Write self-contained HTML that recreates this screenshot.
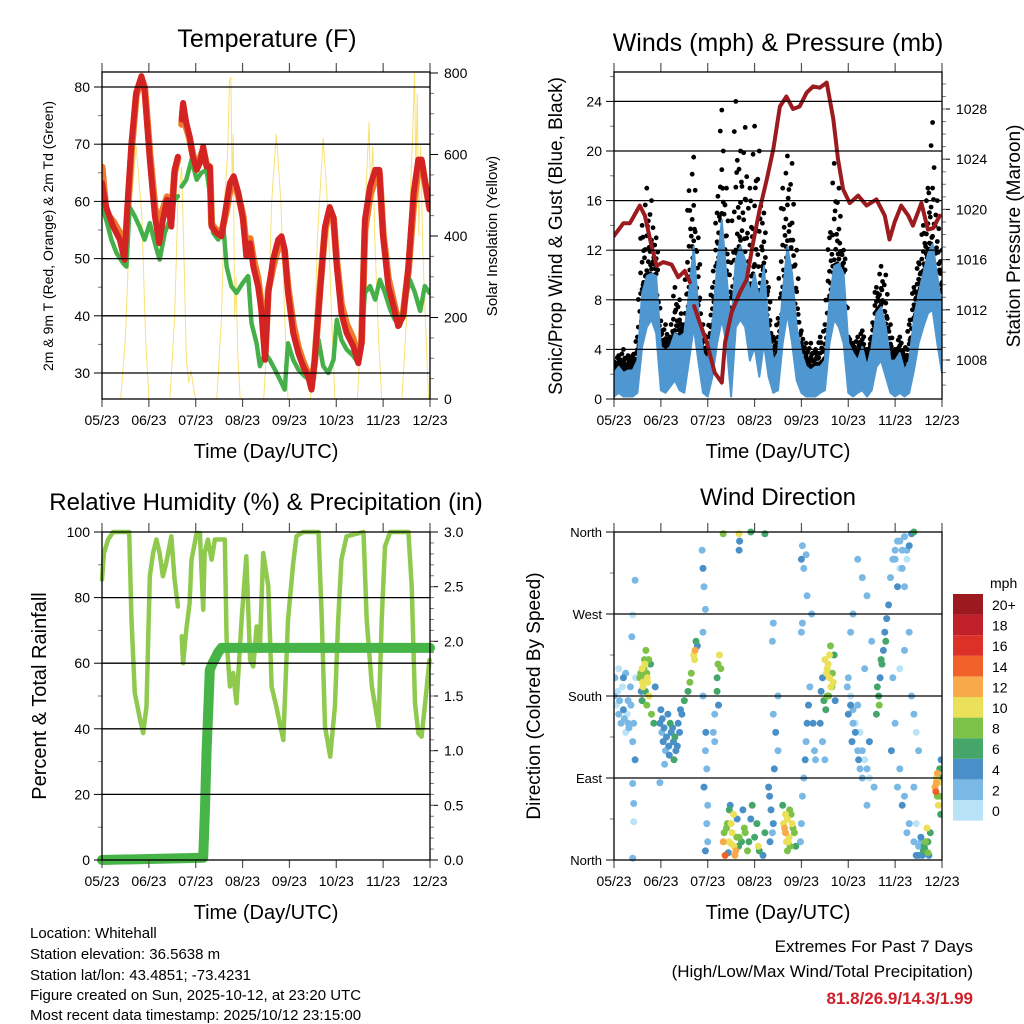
<!DOCTYPE html>
<html><head><meta charset="utf-8"><title>Weather station charts</title>
<style>
html,body{margin:0;padding:0;background:#fff;}
svg{display:block;font-family:"Liberation Sans",Arial,sans-serif;}
</style></head>
<body>
<svg id="fig" width="1024" height="1024" viewBox="0 0 1024 1024" xmlns="http://www.w3.org/2000/svg">
<rect x="0" y="0" width="1024" height="1024" fill="#fff"/>
<g id="layer"></g>
<text x="267" y="47" font-size="25" text-anchor="middle">Temperature (F)</text>
<text x="778" y="51" font-size="25" text-anchor="middle">Winds (mph) &amp; Pressure (mb)</text>
<text x="266" y="510" font-size="24" text-anchor="middle">Relative Humidity (%) &amp; Precipitation (in)</text>
<text x="778" y="505" font-size="24" text-anchor="middle">Wind Direction</text>
<text x="266" y="458" font-size="20" text-anchor="middle">Time (Day/UTC)</text>
<text x="778" y="458" font-size="20" text-anchor="middle">Time (Day/UTC)</text>
<text x="266" y="919" font-size="20" text-anchor="middle">Time (Day/UTC)</text>
<text x="778" y="919" font-size="20" text-anchor="middle">Time (Day/UTC)</text>
<text transform="translate(53,236) rotate(-90)" font-size="14" text-anchor="middle">2m &amp; 9m T (Red, Orange) &amp; 2m Td (Green)</text>
<text transform="translate(497,236) rotate(-90)" font-size="15" text-anchor="middle">Solar Insolation (Yellow)</text>
<text transform="translate(562,236) rotate(-90)" font-size="19" text-anchor="middle">Sonic/Prop Wind &amp; Gust (Blue, Black)</text>
<text transform="translate(1020,236) rotate(-90)" font-size="19" text-anchor="middle">Station Pressure (Maroon)</text>
<text transform="translate(46,696) rotate(-90)" font-size="20" text-anchor="middle">Percent &amp; Total Rainfall</text>
<text transform="translate(540,696) rotate(-90)" font-size="19" text-anchor="middle">Direction (Colored By Speed)</text>
<g font-size="15">
<text x="30" y="938">Location: Whitehall</text>
<text x="30" y="959">Station elevation: 36.5638 m</text>
<text x="30" y="980">Station lat/lon: 43.4851; -73.4231</text>
<text x="30" y="1000">Figure created on Sun, 2025-10-12, at 23:20 UTC</text>
<text x="30" y="1020">Most recent data timestamp: 2025/10/12 23:15:00</text>
</g>
<g font-size="17" text-anchor="end">
<text x="973" y="952">Extremes For Past 7 Days</text>
<text x="973" y="977">(High/Low/Max Wind/Total Precipitation)</text>
<text x="973" y="1004" fill="#d0202a" font-weight="bold">81.8/26.9/14.3/1.99</text>
</g>
</svg>
<script>
// ---------- data ----------
const dayLabels = ["05/23","06/23","07/23","08/23","09/23","10/23","11/23","12/23"];
const tempTimes = [0,.09,.24,.38,.48,.56,.63,.73,.84,.91,1.02,1.13,1.22,1.30,1.39,1.48,1.55,1.62,1.66,1.70,1.73,1.80,1.87,1.94,2.02,2.09,2.16,2.23,2.30,2.34,2.44,2.55,2.66,2.73,2.81,2.91,3.01,3.08,3.16,3.23,3.33,3.40,3.48,3.55,3.65,3.76,3.83,3.90,3.97,4.08,4.19,4.29,4.40,4.47,4.54,4.65,4.76,4.86,4.94,5.01,5.11,5.22,5.36,5.47,5.54,5.61,5.72,5.83,5.92,6.00,6.11,6.22,6.32,6.43,6.54,6.65,6.75,6.82,6.89,6.99];
const temp2m = [63.2,59,55.6,53.3,49.8,61.5,70.2,79,81.9,79.5,67.3,57.4,52.7,56.8,60.3,55.6,65.5,67.8,null,74.3,77.2,73.7,71.4,67.8,65.5,66.7,69.6,66.1,66.1,55.6,54.5,53.9,59.7,63.2,64.4,61.5,56.8,50.4,52.7,48.6,45.2,41.1,32.3,44,49.8,53.3,53.9,51.6,44,37,33.5,31.2,29.4,27.1,32.3,44,55.6,59,57.2,48.6,40.4,37,34.7,31.7,35.2,56.8,62.6,65.5,65.5,53.9,45.2,41.7,38.2,40,48.6,61.5,67.3,67.3,63.8,58.6];
const temp9m = [66,58,56.5,54.5,50.5,60,69,78.5,81.5,80,68.5,59,55,58.5,60.8,57,65,67.5,null,73.5,76.5,73,71,68,66.5,67.5,69,66.5,66,56,55,54.5,58.5,62,63.5,61,57.5,52,53.5,50,46.5,42,33,44.5,48.5,52,53,51,45,38.5,34.5,32,29.8,27.5,32,44.5,55,58.5,57,49.5,42,38.5,36,32.5,35.5,55,61,64,65,54.5,46.5,42.5,39,40.5,48,59.5,66,67,63.5,59];
const dewTimes = [0,.09,.20,.31,.45,.52,.59,.70,.80,.91,1.02,1.13,1.23,1.34,1.45,1.55,1.62,1.66,1.70,1.80,1.91,2.02,2.12,2.23,2.30,2.37,2.48,2.59,2.66,2.76,2.87,3.01,3.12,3.19,3.30,3.37,3.48,3.58,3.69,3.80,3.90,3.97,4.08,4.19,4.33,4.44,4.51,4.62,4.72,4.83,4.94,5.01,5.11,5.22,5.36,5.47,5.54,5.61,5.72,5.83,5.93,6.04,6.15,6.25,6.36,6.47,6.57,6.68,6.79,6.89,6.99];
const dewpoint = [59,56.8,53.3,51,49.2,48.6,59,57.4,55.6,53.3,56.2,52.7,49.8,54.5,56.8,60.3,60.9,null,62.6,63.8,67.3,63.8,65,65.5,61.5,54.5,53.3,55.6,48.6,45.2,44,45.8,47,38.7,35.2,31.2,33.5,32.3,30.6,28.8,27.1,35.2,32.3,30.6,29.4,28.8,29.4,35.8,31.2,30,32.3,39.3,35.8,34.1,33,31.7,36.4,44,45.2,42.8,46.3,44,41.1,39.3,38.2,42.8,46.3,44,40.8,45.2,44];
const solarTimes = [0,0.4,0.5,0.6,0.73,0.85,0.93,1.0,1.45,1.55,1.62,1.7,1.76,1.8,1.85,1.9,1.95,2.0,2.45,2.55,2.62,2.68,2.72,2.75,2.78,2.8,2.83,2.86,2.9,2.95,3.45,3.55,3.62,3.72,3.82,3.9,3.97,4.45,4.52,4.6,4.72,4.82,4.9,4.97,5.45,5.52,5.58,5.65,5.7,5.73,5.78,5.82,5.9,5.97,6.4,6.5,6.58,6.63,6.67,6.7,6.73,6.76,6.8,6.85,6.9,6.97,7];
const solar = [0,0,150,450,620,450,150,0,0,200,480,570,300,100,40,70,30,0,0,200,500,600,780,790,500,650,200,300,100,0,0,200,480,650,480,200,0,0,100,400,640,460,200,0,0,150,400,550,680,500,620,400,150,0,0,200,500,650,800,560,750,400,620,350,200,0,0];

const windTimes = [0,.1,.2,.3,.4,.5,.6,.7,.8,.9,1,1.1,1.2,1.3,1.4,1.5,1.6,1.7,1.8,1.9,2,2.1,2.2,2.3,2.4,2.5,2.6,2.7,2.8,2.9,3,3.1,3.2,3.3,3.4,3.5,3.6,3.7,3.8,3.9,4,4.1,4.2,4.3,4.4,4.5,4.6,4.7,4.8,4.9,5,5.1,5.2,5.3,5.4,5.5,5.6,5.7,5.8,5.9,6,6.1,6.2,6.3,6.4,6.5,6.6,6.7,6.8,6.9,7];
const windHigh = [2.1,2.6,2.1,2.3,2.3,3.1,8.5,9.9,10.1,9.9,4.2,3.9,4.2,5.3,5.0,5.3,8.5,12.3,7.2,3.7,3.1,5.8,10.7,14.4,9.9,5.8,11.2,12.3,11.2,8.5,10.1,8.0,10.7,5.8,3.1,3.7,8.5,12.3,10.1,5.8,3.7,2.6,2.3,2.6,2.6,3.1,8.0,10.7,10.9,10.1,4.5,3.7,3.1,4.2,2.6,4.2,6.9,7.4,5.8,3.1,3.1,3.7,2.3,3.1,6.4,8.5,10.1,11.7,12.5,9.9,7.2];
const windLow = [0.2,0.5,0.2,0.2,0.2,0.5,4.2,5.8,6.4,5.3,0.7,0.5,1.0,1.5,0.7,0.5,3.1,5.8,3.1,0.5,0.2,1.8,4.5,6.4,4.5,0.2,5.8,6.4,5.8,3.1,4.2,1.8,4.5,1.8,0.5,0.7,4.5,6.9,4.5,1.5,0.5,0.2,0.2,0.2,0.5,0.7,4.5,6.4,5.8,4.5,0.5,0.2,0.5,0.7,0.2,0.7,2.6,3.1,1.8,0.5,0.2,0.5,0.2,0.5,2.3,4.5,5.8,6.9,7.2,4.5,2.1];
const gustTop = [3,3.5,4,3.5,3.5,5,14,17,16,13,6.3,6,5,9,8,6,16.8,19.5,13,6,5,9,15,23.3,17,11,24,20,21.9,17,22,20,15,9,5,6.5,17,19.6,19,12,5.5,4.5,4.5,4,5,6,13,19,17,12,5,4.5,5,5.5,4,5,9,10.7,10,6,4,5,4,6,9,11,14,17,22.3,16,12];
const presTimes = [0,.2,.34,.55,.66,.8,.91,1.05,1.23,1.37,1.51,1.62,1.66,1.71,1.83,1.98,2.15,2.3,2.37,2.51,2.69,2.83,2.97,3.11,3.26,3.4,3.54,3.68,3.82,3.96,4.11,4.25,4.39,4.54,4.68,4.78,4.89,5.03,5.21,5.39,5.6,5.78,5.88,5.99,6.13,6.28,6.38,6.56,6.7,6.81,6.95];
const pressure = [1017.9,1018.9,1018.9,1020.3,1019.5,1017.1,1015.5,1015.8,1015.6,1014.6,1015.1,1014.2,null,1012.3,1011,1009.4,1007,1006.2,1009.4,1011.8,1013.4,1014.4,1017.4,1020,1022.4,1024.8,1028.2,1029,1028,1028.2,1029.3,1029.8,1029.7,1030.1,1027.2,1024,1021.6,1020.5,1021.1,1020.3,1020.8,1019.5,1017.6,1019,1020.3,1019.5,1018.7,1020.5,1018.4,1018.5,1019.5];

const rhTimes = [0,.04,.13,.24,.58,.63,.70,.80,.88,.95,1.02,1.09,1.16,1.23,1.30,1.37,1.48,1.55,1.62,1.66,1.70,1.73,1.80,1.87,1.91,2.02,2.09,2.16,2.19,2.26,2.34,2.41,2.55,2.62,2.66,2.73,2.80,2.87,2.98,3.08,3.16,3.23,3.30,3.37,3.44,3.55,3.62,3.72,3.87,3.97,4.08,4.15,4.29,4.62,4.69,4.76,4.87,4.97,5.04,5.11,5.22,5.58,5.65,5.76,5.90,5.97,6.04,6.15,6.54,6.61,6.68,6.75,6.82,6.89,6.99];
const humidity = [85.5,93.5,97.7,100,100,73.2,50.9,43.7,38.7,46.8,86.5,93.6,97.7,93.6,86.5,90.5,98.7,85.5,77.3,null,68.2,60,70.2,78.3,91.6,99.7,99.7,76.3,93.6,97.7,91.6,97.7,97.7,97.7,67.1,52.9,57,47.8,73.2,92.6,61,59,71.2,65.1,93.6,83.4,52.9,46.8,36.6,73.2,90.5,98.7,100,100,73.2,40.7,31.5,46.8,73.2,91.6,98.7,100,73.2,52.9,40.7,73.2,95.6,100,100,83.4,47.8,38.7,37.6,46.8,61];
const rainTimes = [0,2.16,2.2,2.23,2.27,2.3,2.36,2.41,2.48,2.55,7];
const rainfall = [0,0.02,0.5,0.98,1.4,1.74,1.8,1.84,1.9,1.94,1.94];

const speedColors = ["#b9e3f7","#7ab9e5","#4a90c8","#45a66a","#7cc148","#ebe05a","#f8a94a","#f0622a","#dd3127","#c0202a","#9c1a1f"];
const speedLabels = ["0","2","4","6","8","10","12","14","16","18","20+"];
const dirDays = [0,.05,.1,.15,.2,.25,.3,.35,.4,.45,.38,.4,.45,.4,.42,.42,.4,.2,.3,
 .55,.6,.62,.65,.7,.72,.68,.75,.78,.6,.8,.85,.88,.58,.63,.7,.66,
 .98,1.02,1.05,1.1,1.15,1.2,1.25,1.3,1.35,1.4,1.45,1.5,1.08,1.18,1.28,.98,
 1.58,1.62,1.65,1.7,1.73,1.75,1.78,1.72,
 1.88,1.9,1.92,1.95,1.9,1.95,1.98,1.92,2.0,1.98,2.0,1.95,1.96,1.9,
 2.2,2.22,2.25,2.28,2.2,2.23,2.15,2.12,2.15,
 2.33,2.37,2.42,2.46,2.52,2.56,2.6,2.63,2.67,2.48,2.55,2.44,2.4,2.5,
 2.72,2.78,2.85,2.92,3.0,3.08,2.75,3.18,3.22,2.95,
 2.33,2.67,2.68,2.67,2.92,3.22,
 3.32,3.35,3.3,3.4,3.38,3.33,
 3.4,3.45,3.5,3.42,3.5,3.38,3.4,
 3.62,3.66,3.7,3.74,3.78,3.82,3.88,3.6,3.7,3.75,3.68,
 3.98,4.0,4.02,4.05,4.08,4.1,4.12,4.15,4.18,4.0,4.02,4.0,4.02,4.05,4.1,4.12,4.22,4.25,4.28,4.3,
 4.5,4.55,4.6,4.65,4.58,4.48,4.7,4.45,4.42,4.62,4.52,4.4,4.45,4.5,4.68,4.72,
 4.98,5.05,5.1,5.15,5.2,5.25,5.3,5.05,5.1,5.2,5.3,5.4,5.5,5.35,5.45,5.55,5.0,5.08,5.22,5.4,
 5.6,5.65,5.68,5.72,5.75,5.78,5.82,5.86,5.66,5.62,5.7,5.8,
 5.9,5.95,6.0,6.1,6.2,6.15,6.05,5.95,6.0,6.1,6.2,6.3,6.4,6.45,6.5,5.92,6.05,6.15,6.25,6.35,6.3,6.25,6.4,
 6.6,6.65,6.7,6.55,6.75,6.5,6.62,6.68,
 6.85,6.88,6.9,6.95,6.92,6.98,6.87,6.93,6.97];
const dirDegrees = [180,170,160,150,165,140,175,190,130,110,245,269,307,84,62,42,2,200,150,
 200,210,190,220,205,195,230,180,215,175,160,150,190,185,200,170,215,
 150,140,130,120,160,150,145,135,125,140,160,175,105,115,110,85,
 185,195,205,225,230,240,235,220,
 340,320,300,275,250,120,100,80,60,40,20,10,140,180,
 200,215,225,210,185,170,160,140,130,
 20,5,40,55,30,15,10,45,25,60,50,8,35,18,
 20,35,10,45,25,15,55,5,30,60,
 358,358,350,340,360,358,
 70,55,80,40,30,20,
 160,140,120,100,180,240,260,
 40,30,45,25,50,35,15,60,10,55,20,
 20,40,70,90,110,130,150,170,190,250,260,330,345,320,335,290,270,150,120,110,
 220,210,200,190,180,175,225,200,185,235,165,150,130,110,195,175,
 190,170,150,140,120,100,90,250,270,330,310,290,240,210,130,80,160,130,110,60,
 160,180,200,215,230,250,265,280,170,190,220,240,
 310,330,340,350,355,320,300,200,150,100,70,40,20,5,15,120,80,60,30,358,345,340,360,
 10,20,8,25,30,5,15,35,
 80,90,70,100,60,110,75,85,50];
const dirSpeeds = [1,0,2,1,3,0,2,1,2,3,1,0,1,2,1,0,1,3,2,
 8,9,10,7,8,9,7,10,6,6,7,5,4,4,8,7,9,
 3,2,3,2,4,5,4,5,4,3,4,5,2,3,5,2,
 6,7,8,10,12,5,4,9,
 2,3,1,2,1,2,1,3,2,1,2,3,4,2,
 6,8,10,7,5,4,2,1,2,
 12,14,8,6,10,10,12,4,8,4,10,4,7,9,
 6,8,7,4,6,9,3,4,6,5,
 7,10,4,4,6,6,
 4,3,4,4,2,4,
 2,3,2,3,1,1,1,
 10,12,10,9,8,7,6,6,7,8,9,
 1,2,2,1,3,2,3,3,2,1,2,3,2,1,1,1,1,3,2,1,
 10,9,10,8,7,6,6,4,3,8,6,3,2,1,9,4,
 2,3,2,3,2,1,2,1,2,2,1,2,1,2,3,2,4,4,3,2,
 5,6,4,5,4,4,4,3,7,6,6,5,
 1,2,1,2,1,2,3,2,1,2,2,1,2,3,2,3,2,3,2,4,3,2,6,
 6,8,7,4,6,3,5,9,
 12,10,8,6,9,4,13,10,5];
const extraDirDays = [0.02,0.08,0.12,0.18,0.22,0.28,0.32,0.36,0.42,0.46,0.1,0.25,
 0.57,0.61,0.64,0.67,0.71,0.74,0.66,
 1.0,1.03,1.07,1.12,1.17,1.22,1.27,1.32,1.37,1.42,
 2.35,2.45,2.5,2.58,2.62,2.66,2.8,2.88,3.05,3.1,3.64,3.72,3.8,3.85,3.66,3.76,
 4.53,4.57,4.63,4.66,4.6,4.55,
 6.0,6.05,6.1,6.15,6.2,6.25,6.3,6.2,6.1,6.35,6.4,6.45,6.5,6.4,6.45,6.55,
 5.0,5.05,5.1,5.15,5.2,5.25,5.3,5.35,5.4,5.45,
 6.88,6.9,6.95,6.97,
 6.58,6.63,6.7,6.72];
const extraDirDegrees = [200,185,175,190,155,160,145,170,150,200,210,205,
 205,195,210,185,200,220,195,
 165,155,145,135,125,140,130,120,150,165,
 30,20,40,5,25,15,30,20,40,10,35,20,40,30,50,15,
 205,215,190,205,225,180,
 330,350,320,340,300,330,250,230,210,180,160,140,120,80,40,20,
 200,180,165,150,170,140,120,110,100,90,
 85,95,70,90,
 5,12,20,5];
const extraDirSpeeds = [1,0,1,0,1,0,1,2,1,0,0,1,
 8,9,8,6,9,8,10,
 4,4,3,4,4,3,4,3,4,4,
 8,10,9,11,8,6,7,6,6,5,11,10,9,7,10,8,
 9,10,9,8,10,8,
 1,1,0,1,1,0,1,1,0,1,1,0,1,1,0,1,
 1,0,1,0,1,0,1,0,1,0,
 12,11,7,6,
 4,5,6,4];

// ---------- helpers ----------
const NS = "http://www.w3.org/2000/svg";
const layer = document.getElementById('layer');
function mk(tag, attrs, parent){ const e=document.createElementNS(NS,tag); for(const k in attrs) e.setAttribute(k,attrs[k]); (parent||layer).appendChild(e); return e; }
const panels = {
  temp:{L:102,R:430,T:72,B:399},
  wind:{L:614,R:942,T:72,B:399},
  rh:{L:102,R:430,T:532,B:860},
  dir:{L:614,R:942,T:532,B:860}
};
function xDay(p,d){ return p.L + d*(p.R-p.L)/7; }
function lin(v0,y0,v1,y1){ return v => y0 + (v-v0)*(y1-y0)/(v1-v0); }
const yTemp = lin(30,373,80,87);
const ySolar = lin(0,399,800,73);
const yWind = lin(0,399,24,101.4);
const yPres = lin(1028,109,1008,360);
const yRH = lin(0,860,100,532);
const yRain = lin(0,860,3,532);
const yDir = lin(0,860,360,532);

function pathFrom(p,times,vals,yf){
  let d="", pen=false;
  for(let i=0;i<times.length;i++){
    if(vals[i]===null){pen=false;continue;}
    d += (pen?"L":"M")+xDay(p,times[i]).toFixed(1)+","+yf(vals[i]).toFixed(1);
    pen=true;
  }
  return d;
}
function clipFor(id,p){
  const c=mk('clipPath',{id:id});
  mk('rect',{x:p.L,y:p.T,width:p.R-p.L,height:p.B-p.T},c);
}
function frame(name,p,leftTicks,rightTicks){
  const g=mk('g',{});  
  leftTicks.major.forEach((t)=>{
    const y=t.y;
    if(y>p.T+1 && y<p.B-1){ const gl=mk('line',{x1:p.L,x2:p.R,y1:y,y2:y,stroke:'#000','stroke-width':1.3},g);   }
    mk('line',{x1:p.L-8,x2:p.L,y1:y,y2:y,stroke:'#000','stroke-width':1},g);
    const tx=mk('text',{x:p.L-12,y:y+5,'font-size':t.fs||14,'text-anchor':'end'},g); tx.textContent=t.label;
     
  });
  (leftTicks.minor||[]).forEach(y=>mk('line',{x1:p.L-4,x2:p.L,y1:y,y2:y,stroke:'#777','stroke-width':1},g));
  if(rightTicks){
    rightTicks.major.forEach(t=>{
      mk('line',{x1:p.R,x2:p.R+8,y1:t.y,y2:t.y,stroke:'#000','stroke-width':1},g);
      const tx=mk('text',{x:p.R+14,y:t.y+5,'font-size':14},g); tx.textContent=t.label;
       
    });
    (rightTicks.minor||[]).forEach(y=>mk('line',{x1:p.R,x2:p.R+4,y1:y,y2:y,stroke:'#777','stroke-width':1},g));
  }
  for(let k=0;k<8;k++){
    const x=xDay(p,k);
    mk('line',{x1:x,x2:x,y1:p.B,y2:p.B+8,stroke:'#555','stroke-width':1.2},g);
    mk('line',{x1:x,x2:x,y1:p.T-9,y2:p.T,stroke:'#555','stroke-width':1.2},g);
    const tx=mk('text',{x:x,y:p.B+26,'font-size':14,'text-anchor':'middle'},g); tx.textContent=dayLabels[k];
     
  }
  mk('rect',{x:p.L,y:p.T,width:p.R-p.L,height:p.B-p.T,fill:'none',stroke:'#000','stroke-width':1.3},g);
}
function range(a,b,s){ const r=[]; for(let v=a; v<=b+1e-9; v+=s) r.push(+v.toFixed(4)); return r; }

// ---------- temperature ----------
(function(){
  const p=panels.temp; clipFor('cTemp',p);
  const g=mk('g',{'clip-path':'url(#cTemp)'});
   
  const s=mk('path',{d:pathFrom(p,solarTimes,solar,ySolar),fill:'none',stroke:'#f7dc5a','stroke-width':1,'stroke-opacity':0.85},g);
   
  const o=mk('path',{d:pathFrom(p,tempTimes,temp9m,yTemp),fill:'none',stroke:'#f07a2c','stroke-width':7,'stroke-linejoin':'round','stroke-linecap':'round'},g);
   
  const dw=mk('path',{d:pathFrom(p,dewTimes,dewpoint,yTemp),fill:'none',stroke:'#45b04a','stroke-width':4.5,'stroke-linejoin':'round','stroke-linecap':'round','stroke-dasharray':'3 1'},g);
   
  const r=mk('path',{d:pathFrom(p,tempTimes,temp2m,yTemp),fill:'none',stroke:'#d42323','stroke-width':6,'stroke-linejoin':'round','stroke-linecap':'round'},g);
   
  frame('temperature',p,
    {major:range(30,80,10).map(v=>({y:yTemp(v),label:String(v)})), minor:range(35,75,10).map(yTemp)},
    {major:range(0,800,200).map(v=>({y:ySolar(v),label:String(v)})), minor:range(100,700,200).map(ySolar).concat(range(50,750,100).map(ySolar))});
})();

// ---------- winds ----------
(function(){
  const p=panels.wind; clipFor('cWind',p);
  const g=mk('g',{'clip-path':'url(#cWind)'});
   
  // gust scatter: dots spread vertically between sustained wind top and gust top
  const fracs=[0,0.12,0.25,0.4,0.55,0.7,0.85,1];
  for(let i=0;i<windTimes.length;i++){
    const nxt=Math.min(i+1,windTimes.length-1);
    for(let h=0;h<2;h++){
      const tt = h===0 ? windTimes[i] : (windTimes[i]+windTimes[nxt])/2;
      const hi = h===0 ? gustTop[i] : (gustTop[i]+gustTop[nxt])/2*0.9;
      const lo = h===0 ? windHigh[i] : (windHigh[i]+windHigh[nxt])/2;
      fracs.forEach((f,k)=>{
        if(h===1 && k%2===1) return;
        const v = lo + (hi-lo)*Math.pow(f,1.3);
        const c=mk('circle',{cx:(xDay(p,tt)+((k%3)-1)*1.5).toFixed(1),cy:yWind(v).toFixed(1),r:2.4,fill:'#000'},g);
         
      });
    }
  }
  let t2="", b2="";
  for(let i=0;i<windTimes.length;i++){ t2+=(i?"L":"M")+xDay(p,windTimes[i]).toFixed(1)+","+yWind(windHigh[i]).toFixed(1); }
  for(let i=windTimes.length-1;i>=0;i--){ b2+="L"+xDay(p,windTimes[i]).toFixed(1)+","+yWind(windLow[i]).toFixed(1); }
  const wa=mk('path',{d:t2+b2+"Z",fill:'#4f97d1',stroke:'#4f97d1','stroke-width':2,'stroke-linejoin':'round'},g);
   
  const pr=mk('path',{d:pathFrom(p,presTimes,pressure,yPres),fill:'none',stroke:'#9b1b1e','stroke-width':4,'stroke-linejoin':'round','stroke-linecap':'round'},g);
   
  frame('winds',p,
    {major:range(0,24,4).map(v=>({y:yWind(v),label:String(v)})), minor:range(2,26,4).map(yWind)},
    {major:range(1008,1028,4).map(v=>({y:yPres(v),label:String(v)})), minor:range(1006,1030,1).map(yPres).filter(y=>y>72&&y<399)});
})();

// ---------- humidity ----------
(function(){
  const p=panels.rh;
  const c=mk('clipPath',{id:'cRHx'}); mk('rect',{x:p.L-6,y:p.T-3,width:p.R-p.L+12,height:p.B-p.T+8},c);
  const g=mk('g',{'clip-path':'url(#cRHx)'});
   
  const h=mk('path',{d:pathFrom(p,rhTimes,humidity,yRH),fill:'none',stroke:'#8fca4e','stroke-width':4.5,'stroke-linejoin':'round','stroke-linecap':'round'},g);
   
  const rn=mk('path',{d:pathFrom(p,rainTimes,rainfall,yRain),fill:'none',stroke:'#47b448','stroke-width':10,'stroke-linejoin':'round','stroke-linecap':'round'},g);
   
  frame('humidity',p,
    {major:range(0,100,20).map(v=>({y:yRH(v),label:String(v)})), minor:range(10,90,20).map(yRH)},
    {major:range(0,3,0.5).map(v=>({y:yRain(v),label:v.toFixed(1)})), minor:range(0.1,2.9,0.1).map(yRain)});
})();

// ---------- wind direction ----------
(function(){
  const p=panels.dir;
  const c=mk('clipPath',{id:'cDirx'}); mk('rect',{x:p.L,y:p.T-5,width:p.R-p.L,height:p.B-p.T+10},c);
  const g=mk('g',{'clip-path':'url(#cDirx)'});
   
  const D=dirDays.concat(extraDirDays), A=dirDegrees.concat(extraDirDegrees), S=dirSpeeds.concat(extraDirSpeeds);
  const order=S.map((s,i)=>i).sort((a,b)=>S[a]-S[b]);
  order.forEach(i=>{
    const pt=mk('circle',{cx:xDay(p,D[i]).toFixed(1),cy:yDir(A[i]).toFixed(1),r:3.5,fill:speedColors[Math.min(10,Math.round(S[i]/2))]},g);
     
  });
  const names=["North","East","South","West","North"];
  frame('direction',p,
    {major:[0,90,180,270,360].map((v,i)=>({y:yDir(v),label:names[i],fs:13})), minor:[45,135,225,315].map(yDir)}, null);
  const lg=mk('g',{});  
  const lt=mk('text',{x:990,y:588,'font-size':14},lg); lt.textContent='mph';
  for(let k=0;k<11;k++){
    const y=594+(10-k)*20.6;
    const r=mk('rect',{x:953,y:y,width:30,height:20.6,fill:speedColors[k]},lg);
     
    const t=mk('text',{x:992,y:y+16,'font-size':14},lg); t.textContent=speedLabels[k];
     
  }
})();
</script>
</body></html>
